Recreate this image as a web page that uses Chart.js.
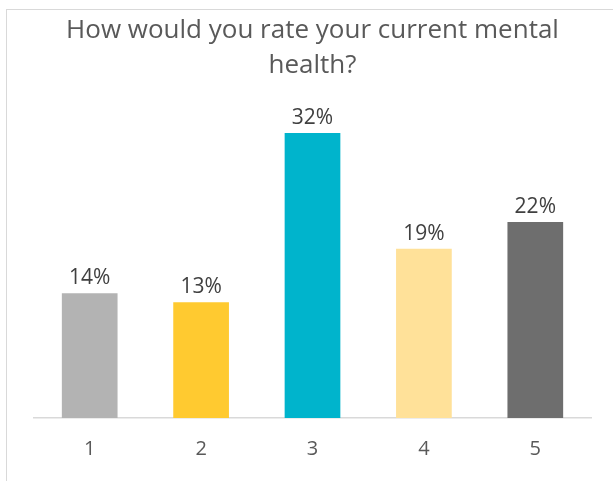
<!DOCTYPE html>
<html>
<head>
<meta charset="utf-8">
<style>
  html, body { margin: 0; padding: 0; background: #ffffff; overflow: hidden; }
  #frame { position: absolute; left: 6px; top: 9px; width: 700px; height: 600px; border: 1px solid #d9d9d9; box-sizing: border-box; }
  #wrap { position: absolute; left: 0; top: 0; width: 613px; height: 481px; }
</style>
<script src="https://cdn.jsdelivr.net/npm/chart.js@4/dist/chart.umd.min.js"></script>
</head>
<body>
<div id="frame"></div>
<div id="wrap"><canvas id="c" width="613" height="481"></canvas></div>
<script>
// Survey results: self-rated mental health on a 1–5 scale
const categories = ['1', '2', '3', '4', '5'];
const shares = [14, 13, 32, 19, 22];
const barColors = ['#b3b3b3', '#ffca30', '#00b4cc', '#ffe199', '#6e6e6e'];
const titleLines = ['How would you rate your current mental', 'health?'];

// Writes the percentage above each bar
const valueLabels = {
  id: 'valueLabels',
  afterDatasetsDraw(chart) {
    const ctx = chart.ctx;
    const meta = chart.getDatasetMeta(0);
    ctx.save();
    ctx.font = '21px "Open Sans", sans-serif';
    ctx.fillStyle = '#404040';
    ctx.textAlign = 'center';
    ctx.textBaseline = 'middle';
    meta.data.forEach((bar, i) => {
      ctx.fillText(shares[i] + '%', bar.x, bar.y - 15);
    });
    ctx.restore();
  }
};

new Chart(document.getElementById('c'), {
  type: 'bar',
  data: {
    labels: categories,
    datasets: [{
      data: shares,
      backgroundColor: barColors,
      borderWidth: 0,
      categoryPercentage: 1.0,
      barPercentage: 0.5
    }]
  },
  options: {
    responsive: false,
    animation: false,
    devicePixelRatio: 1,
    layout: { padding: { left: 34, right: 22, top: 0, bottom: 1 } },
    plugins: {
      legend: { display: false },
      tooltip: { enabled: false },
      title: {
        display: true,
        text: titleLines,
        color: '#595959',
        font: { family: '"Open Sans", sans-serif', size: 26, weight: 'normal', lineHeight: 1.35 },
        padding: { top: 13, bottom: 23 }
      }
    },
    scales: {
      x: {
        grid: { display: false, drawTicks: false, tickLength: 0 },
        border: { display: true, color: '#d9d9d9', width: 1.5 },
        ticks: {
          color: '#595959',
          padding: 19,
          font: { family: '"Open Sans", sans-serif', size: 20, lineHeight: 1.2 }
        }
      },
      y: {
        display: false,
        min: 0,
        max: 35
      }
    }
  },
  plugins: [valueLabels]
});
</script>
</body>
</html>
